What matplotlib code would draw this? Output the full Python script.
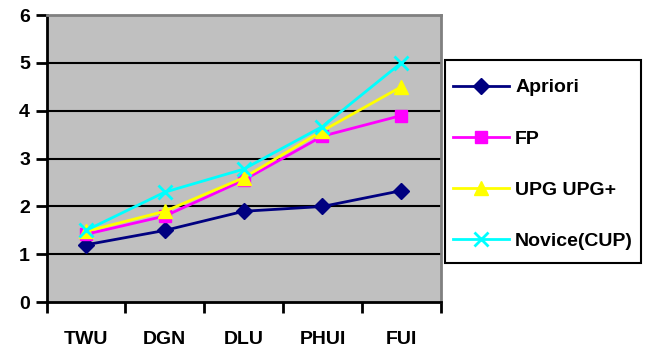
import numpy as np
import matplotlib
matplotlib.use('Agg')
import matplotlib.pyplot as plt
from matplotlib.patches import Rectangle

# Dados do gráfico
categorias = ['TWU', 'DGN', 'DLU', 'PHUI', 'FUI']
apriori = [1.2, 1.5, 1.9, 2.0, 2.33]
fp = [1.42, 1.8, 2.55, 3.47, 3.9]
upg = [1.48, 1.9, 2.6, 3.58, 4.5]
novice = [1.5, 2.3, 2.78, 3.67, 5.0]

plt.rcParams['font.family'] = ['Liberation Sans', 'DejaVu Sans']
plt.rcParams['font.weight'] = 'bold'

fig = plt.figure(figsize=(6.48, 3.49), dpi=100)
ax = fig.add_axes([0.072, 0.134, 0.608, 0.823])
ax.set_facecolor('#C0C0C0')

x = np.arange(len(categorias))
ax.plot(x, apriori, color='#000080', marker='D', markersize=8, lw=2, label='Apriori')
ax.plot(x, fp, color='#FF00FF', marker='s', markersize=9, lw=2, label='FP')
ax.plot(x, upg, color='#FFFF00', marker='^', markersize=10, lw=2, label='UPG UPG+')
ax.plot(x, novice, color='#00FFFF', marker='x', markersize=10, mew=2, lw=2, label='Novice(CUP)')

ax.set_ylim(0, 6)
ax.set_xlim(-0.5, len(categorias) - 0.5)
ax.set_yticks(range(7))
ax.set_xticks(np.arange(-0.5, len(categorias), 1.0))
ax.set_xticklabels([])
ax.set_xticks(x, minor=True)
ax.set_xticklabels(categorias, minor=True, fontsize=14, fontweight='bold')
ax.tick_params(axis='x', which='minor', length=0, pad=21)
ax.tick_params(axis='x', which='major', length=8, width=2, direction='out')
ax.tick_params(axis='y', length=8, width=2, direction='out', labelsize=14, pad=4)
for lbl in ax.get_yticklabels():
    lbl.set_fontweight('bold')

for yv in range(1, 6):
    ax.axhline(yv, color='black', lw=1.5, zorder=1)

ax.spines['left'].set_linewidth(2)
ax.spines['bottom'].set_linewidth(2)
ax.spines['top'].set_color('#808080')
ax.spines['right'].set_color('#808080')
ax.spines['top'].set_linewidth(2)
ax.spines['right'].set_linewidth(2)

# legenda sem moldura + moldura desenhada à parte
leg = fig.legend(loc='upper left', bbox_to_anchor=(0.699, 0.774), borderaxespad=0,
                 frameon=False, prop={'weight': 'bold', 'size': 14}, handlelength=2.9,
                 labelspacing=1.72, borderpad=0, handletextpad=0.3)
fig.patches.append(Rectangle((0.687, 0.246), 0.3025, 0.5817, transform=fig.transFigure,
                             fill=False, edgecolor='black', linewidth=1.5))

fig.savefig('out.png', dpi=100)
